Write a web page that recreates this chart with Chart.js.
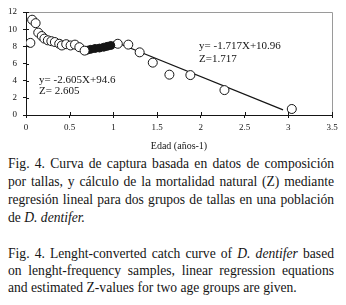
<!DOCTYPE html>
<html><head><meta charset="utf-8">
<script src="https://cdn.jsdelivr.net/npm/chart.js@4/dist/chart.umd.min.js"></script>
<style>
html,body{margin:0;padding:0;background:#fff;width:346px;height:305px;overflow:hidden}
#wrap{position:absolute;left:0;top:0;width:346px;height:155px}
.cap{position:absolute;left:8px;width:326px;font-family:"Liberation Serif","Times New Roman",serif;font-size:13.6px;color:#151515}
.cap div{height:18px;line-height:18px;text-align:justify;text-align-last:justify;white-space:nowrap}
.cap div.last{text-align-last:left}
#cap2 div{height:17px;line-height:17px}
</style>
</head><body>
<div id="wrap"><canvas id="c" width="346" height="155"></canvas></div>
<div class="cap" id="cap1" style="top:155px">
<div>Fig. 4. Curva de captura basada en datos de composición</div>
<div>por tallas, y cálculo de la mortalidad natural (Z) mediante</div>
<div>regresión lineal para dos grupos de tallas en una población</div>
<div class="last">de <i>D. dentifer.</i></div>
</div>
<div class="cap" id="cap2" style="top:245px">
<div>Fig. 4. Lenght-converted catch curve of <i>D. dentifer</i> based</div>
<div>on lenght-frequency samples, linear regression equations</div>
<div class="last">and estimated Z-values for two age groups are given.</div>
</div>
<script>
// Age (years) and ln(N) values
const openLeftX  = [0.05, 0.07, 0.11, 0.14, 0.18, 0.21, 0.25, 0.29, 0.33, 0.38, 0.41, 0.46, 0.51, 0.56, 0.61, 0.67];
const openLeftY  = [8.4, 11.1, 10.7, 9.6, 9.2, 8.9, 8.7, 8.6, 8.5, 8.3, 8.1, 8.25, 8.1, 8.2, 7.9, 7.5];
const filledX    = [0.70, 0.74, 0.79, 0.84, 0.89, 0.93, 0.97];
const filledY    = [7.55, 7.65, 7.75, 7.8, 7.9, 8.0, 8.1];
const openRightX = [1.05, 1.17, 1.30, 1.45, 1.64, 1.88, 2.27, 3.04];
const openRightY = [8.3, 8.2, 7.3, 6.1, 4.7, 4.65, 2.9, 0.7];
const lineX      = [1.0, 2.94];
const lineY      = [8.6, 0.6];
const xTicks     = [0, 0.5, 1, 1.5, 2, 2.5, 3, 3.5];
const yTicks     = [0, 2, 4, 6, 8, 10, 12];
const xTitle     = "Edad (años-1)";
const eq1 = ["y= -2.605X+94.6", "Z= 2.605"];
const eq2 = ["y= -1.717X+10.96", "Z=1.717"];

const zip = (xs, ys) => xs.map((x, i) => ({x: x, y: ys[i]}));
const SERIF = '"Liberation Serif","Times New Roman",serif';
const INK = '#151515';

const decor = {
  id: 'decor',
  afterDraw(chart) {
    const {ctx, chartArea: a, scales: {x, y}} = chart;
    ctx.save();
    ctx.strokeStyle = '#9a9a9a';
    ctx.lineWidth = 1;
    ctx.beginPath();
    ctx.moveTo(a.left, a.top + 0.5); ctx.lineTo(a.right + 0.5, a.top + 0.5); ctx.lineTo(a.right + 0.5, a.bottom);
    ctx.stroke();
    ctx.strokeStyle = INK;
    ctx.beginPath();
    xTicks.forEach(v => { const px = Math.round(x.getPixelForValue(v)) + 0.5; ctx.moveTo(px, a.bottom); ctx.lineTo(px, a.bottom - 3); });
    yTicks.forEach(v => { const py = Math.round(y.getPixelForValue(v)) + 0.5; ctx.moveTo(a.left, py); ctx.lineTo(a.left + 3, py); });
    ctx.stroke();
    ctx.fillStyle = INK;
    ctx.font = '11px ' + SERIF;
    ctx.textBaseline = 'middle';
    ctx.textAlign = 'left';
    ctx.fillText(eq1[0], x.getPixelForValue(0.15), y.getPixelForValue(4.07));
    ctx.fillText(eq1[1], x.getPixelForValue(0.15), y.getPixelForValue(2.8));
    ctx.fillText(eq2[0], x.getPixelForValue(1.98), y.getPixelForValue(8.0));
    ctx.fillText(eq2[1], x.getPixelForValue(1.98), y.getPixelForValue(6.5));
    ctx.restore();
  }
};

new Chart(document.getElementById('c'), {
  type: 'scatter',
  data: {
    datasets: [
      {data: zip(openLeftX, openLeftY), pointRadius: 4.5, pointBackgroundColor: '#fff', pointBorderColor: INK, pointBorderWidth: 1},
      {data: zip(filledX, filledY), pointRadius: 4, pointBackgroundColor: INK, pointBorderColor: INK, pointBorderWidth: 1},
      {data: zip(openRightX, openRightY), pointRadius: 4.5, pointBackgroundColor: '#fff', pointBorderColor: INK, pointBorderWidth: 1},
      {type: 'line', data: zip(lineX, lineY), showLine: true, pointRadius: 0, borderColor: INK, borderWidth: 1.2, fill: false}
    ]
  },
  options: {
    responsive: false,
    animation: false,
    events: [],
    layout: {padding: {top: 12, right: 14, left: 0, bottom: 0}},
    plugins: {legend: {display: false}, tooltip: {enabled: false}},
    scales: {
      x: {
        type: 'linear', min: 0, max: 3.5,
        afterBuildTicks: s => { s.ticks = xTicks.map(v => ({value: v})); },
        afterFit: s => { s.height = 40; },
        ticks: {color: INK, font: {family: SERIF, size: 9}, padding: 4, maxRotation: 0, callback: v => String(v)},
        grid: {drawOnChartArea: false, tickLength: 3, color: INK},
        border: {display: true, color: INK, width: 1},
        title: {display: true, text: xTitle, color: INK, font: {family: SERIF, size: 10}, padding: {top: 0, bottom: 3}}
      },
      y: {
        type: 'linear', min: 0, max: 12,
        afterBuildTicks: s => { s.ticks = yTicks.map(v => ({value: v})); },
        afterFit: s => { s.width = 26; },
        ticks: {color: INK, font: {family: SERIF, size: 9}, padding: 6, callback: v => String(v)},
        grid: {drawOnChartArea: false, tickLength: 3, color: INK},
        border: {display: true, color: INK, width: 1}
      }
    }
  },
  plugins: [decor]
});
</script>
</body></html>
